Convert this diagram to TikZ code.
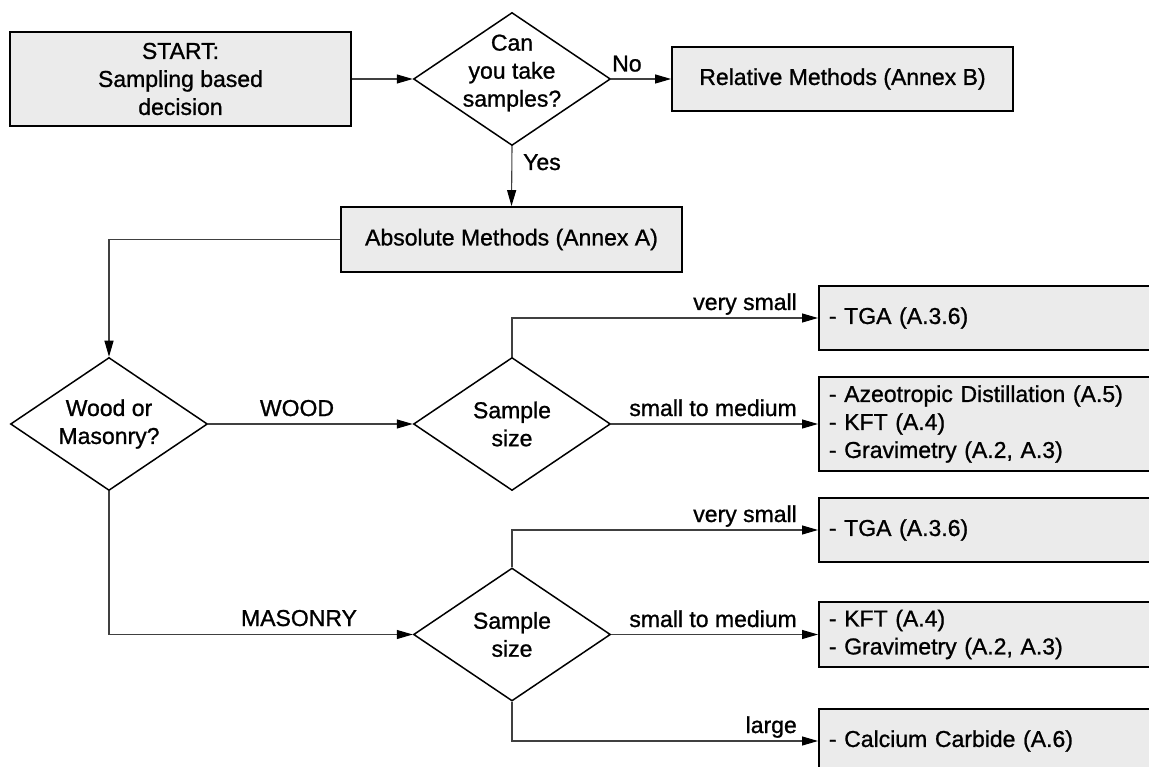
\documentclass[tikz,border=0pt]{standalone}
\usepackage{fontspec}
\setmainfont{Liberation Sans}[FakeBold=1.0]
\usetikzlibrary{shapes.geometric,arrows.meta}
\definecolor{boxgray}{HTML}{EBEBEB}
\definecolor{wire}{HTML}{404040}

\begin{document}
\begin{tikzpicture}[x=1pt,y=-1pt,
  font=\fontsize{23}{28}\selectfont,
  procbox/.style={draw=black, line width=1.8pt, fill=boxgray, minimum width=341pt,
    inner sep=0pt, align=center},
  outbox/.style={draw=black, line width=1.8pt, fill=boxgray, anchor=west,
    text width=322pt, inner xsep=10pt, inner ysep=0pt, align=left},
  decision/.style={diamond, draw=black, line width=1.5pt, fill=white,
    minimum width=197pt, minimum height=133pt, inner sep=0pt},
  dtext/.style={inner sep=0pt, align=center},
  lbl/.style={inner sep=0pt},
  wire/.style={draw=wire, line width=1.1pt},
  flow/.style={wire, -{Triangle[length=16pt,width=9pt,color=black]}}]

\useasboundingbox (0,0) rectangle (1149,767);
\clip (0,0) rectangle (1149,767);

% top row
\node[procbox, minimum height=94pt] (start) at (180.5,79) {START:\\Sampling based\\decision};
\node[decision] (q1) at (512,79) {};
\node[dtext] (q1t) at (512,73) {Can\\you take\\samples?};
\node[procbox, minimum height=64pt] (rel) at (842.5,79) {Relative Methods (Annex B)};
\node[procbox, minimum height=65pt] (abs) at (511.5,239.5) {Absolute Methods (Annex A)};

% material and sample size decisions
\node[decision] (wm) at (109,424) {};
\node[dtext] (wmt) at (109,424) {Wood or\\Masonry?};
\node[decision] (ss1) at (512,424) {};
\node[dtext] (ss1t) at (512,424) {Sample\\size};
\node[decision] (ss2) at (512,634.5) {};
\node[dtext] (ss2t) at (512,634.5) {Sample\\size};

% method boxes
\node[outbox, minimum height=64pt] (b1) at (818,318) {- TGA (A.3.6)};
\node[outbox, minimum height=94pt] (b2) at (818,424) {- Azeotropic Distillation (A.5)\\- KFT (A.4)\\- Gravimetry (A.2, A.3)};
\node[outbox, minimum height=64pt] (b3) at (818,530) {- TGA (A.3.6)};
\node[outbox, minimum height=65pt] (b4) at (818,634.5) {- KFT (A.4)\\- Gravimetry (A.2, A.3)};
\node[outbox, minimum height=64pt] (b5) at (818,741) {- Calcium Carbide (A.6)};

% connectors
\draw[flow] (start.east) -- (q1.west);
\draw[flow] (q1.east) -- (rel.west);
\draw[flow] (q1.south) -- (abs.north);
\draw[flow] (abs.west) -| (wm.north);
\draw[flow] (wm.east) -- (ss1.west);
\draw[flow] (wm.south) |- (ss2.west);
\draw[flow] (ss1.north) |- (b1.west);
\draw[flow] (ss1.east) -- (b2.west);
\draw[flow] (ss2.north) |- (b3.west);
\draw[flow] (ss2.east) -- (b4.west);
\draw[flow] (ss2.south) |- (b5.west);

% connector labels
\node[lbl, anchor=base west] (no) at (612,71.5) {No};
\node[lbl, anchor=base west] (yes) at (523,170) {Yes};
\node[lbl, anchor=base] (wood) at (297,416) {WOOD};
\node[lbl, anchor=base] (mas) at (299,626) {MASONRY};
\node[lbl, anchor=base east] (vs1) at (797,310) {very small};
\node[lbl, anchor=base east] (sm1) at (797,416) {small to medium};
\node[lbl, anchor=base east] (vs2) at (797,522) {very small};
\node[lbl, anchor=base east] (sm2) at (797,627) {small to medium};
\node[lbl, anchor=base east] (lg) at (797,733) {large};
\end{tikzpicture}
\end{document}
